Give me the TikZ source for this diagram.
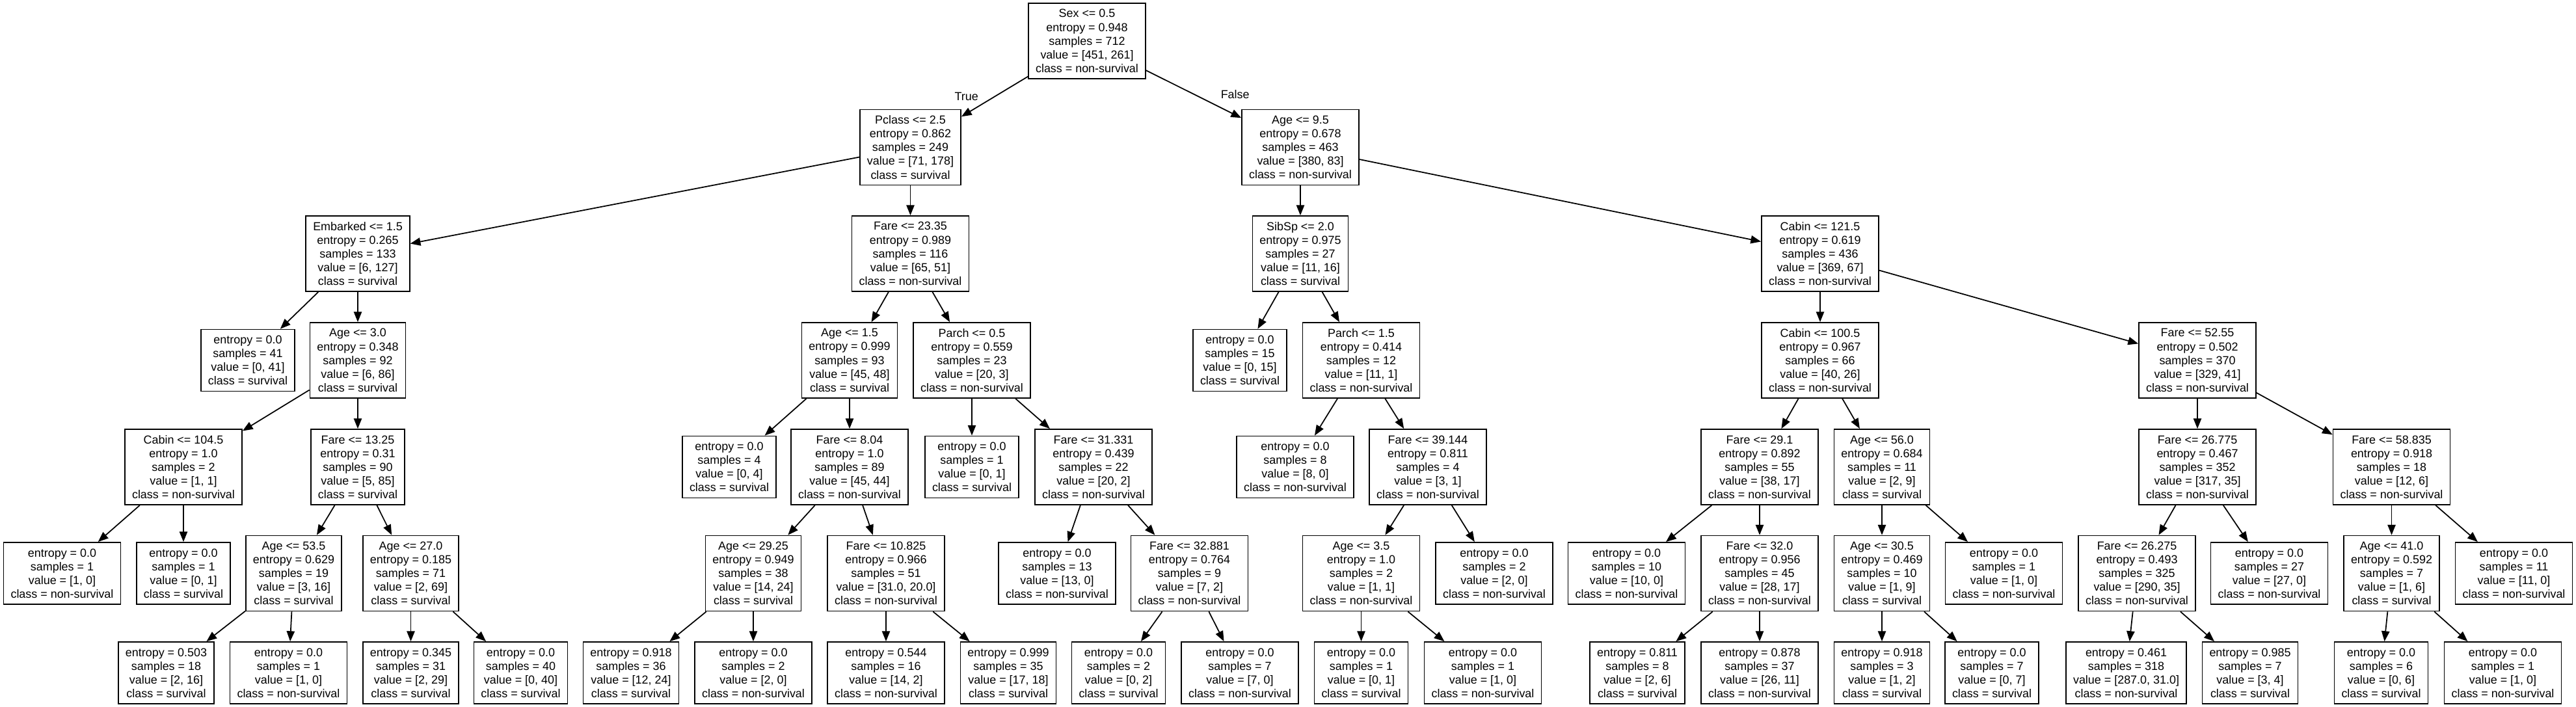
\documentclass[tikz,border=0pt]{standalone}
\usepackage{fontspec}
\setmainfont{Liberation Sans}
\usetikzlibrary{arrows.meta}

\begin{document}
\begin{tikzpicture}[
  split/.style={draw,line width=1pt,align=center,minimum height=2.32cm,inner xsep=0.22cm,inner ysep=0pt,font=\fontsize{10.2}{12}\selectfont},
  leaf/.style={split,minimum height=1.9cm},
  edge/.style={line width=1pt,-{Triangle[length=9pt,width=7pt]}},
  lbl/.style={font=\fontsize{10.2}{12}\selectfont}]
\useasboundingbox (0,0) rectangle (79.2,-21.74);
\node[split] (n0) at (33.42,-1.26) {Sex <= 0.5\\entropy = 0.948\\samples = 712\\value = [451, 261]\\class = non-survival};
\node[split] (n1) at (27.99,-4.53) {Pclass <= 2.5\\entropy = 0.862\\samples = 249\\value = [71, 178]\\class = survival};
\node[split] (n2) at (39.98,-4.53) {Age <= 9.5\\entropy = 0.678\\samples = 463\\value = [380, 83]\\class = non-survival};
\node[split] (n3) at (11.00,-7.80) {Embarked <= 1.5\\entropy = 0.265\\samples = 133\\value = [6, 127]\\class = survival};
\node[split] (n4) at (27.99,-7.80) {Fare <= 23.35\\entropy = 0.989\\samples = 116\\value = [65, 51]\\class = non-survival};
\node[split] (n5) at (39.98,-7.80) {SibSp <= 2.0\\entropy = 0.975\\samples = 27\\value = [11, 16]\\class = survival};
\node[split] (n6) at (55.96,-7.80) {Cabin <= 121.5\\entropy = 0.619\\samples = 436\\value = [369, 67]\\class = non-survival};
\node[leaf] (n7) at (7.62,-11.08) {entropy = 0.0\\samples = 41\\value = [0, 41]\\class = survival};
\node[split] (n8) at (11.00,-11.08) {Age <= 3.0\\entropy = 0.348\\samples = 92\\value = [6, 86]\\class = survival};
\node[split] (n9) at (26.12,-11.08) {Age <= 1.5\\entropy = 0.999\\samples = 93\\value = [45, 48]\\class = survival};
\node[split] (n10) at (29.88,-11.08) {Parch <= 0.5\\entropy = 0.559\\samples = 23\\value = [20, 3]\\class = non-survival};
\node[leaf] (n11) at (38.12,-11.08) {entropy = 0.0\\samples = 15\\value = [0, 15]\\class = survival};
\node[split] (n12) at (41.85,-11.08) {Parch <= 1.5\\entropy = 0.414\\samples = 12\\value = [11, 1]\\class = non-survival};
\node[split] (n13) at (55.96,-11.08) {Cabin <= 100.5\\entropy = 0.967\\samples = 66\\value = [40, 26]\\class = non-survival};
\node[split] (n14) at (67.56,-11.08) {Fare <= 52.55\\entropy = 0.502\\samples = 370\\value = [329, 41]\\class = non-survival};
\node[split] (n15) at (5.64,-14.36) {Cabin <= 104.5\\entropy = 1.0\\samples = 2\\value = [1, 1]\\class = non-survival};
\node[split] (n16) at (11.00,-14.36) {Fare <= 13.25\\entropy = 0.31\\samples = 90\\value = [5, 85]\\class = survival};
\node[leaf] (n17) at (22.42,-14.36) {entropy = 0.0\\samples = 4\\value = [0, 4]\\class = survival};
\node[split] (n18) at (26.12,-14.36) {Fare <= 8.04\\entropy = 1.0\\samples = 89\\value = [45, 44]\\class = non-survival};
\node[leaf] (n19) at (29.88,-14.36) {entropy = 0.0\\samples = 1\\value = [0, 1]\\class = survival};
\node[split] (n20) at (33.62,-14.36) {Fare <= 31.331\\entropy = 0.439\\samples = 22\\value = [20, 2]\\class = non-survival};
\node[leaf] (n21) at (39.82,-14.36) {entropy = 0.0\\samples = 8\\value = [8, 0]\\class = non-survival};
\node[split] (n22) at (43.90,-14.36) {Fare <= 39.144\\entropy = 0.811\\samples = 4\\value = [3, 1]\\class = non-survival};
\node[split] (n23) at (54.10,-14.36) {Fare <= 29.1\\entropy = 0.892\\samples = 55\\value = [38, 17]\\class = non-survival};
\node[split] (n24) at (57.86,-14.36) {Age <= 56.0\\entropy = 0.684\\samples = 11\\value = [2, 9]\\class = survival};
\node[split] (n25) at (67.56,-14.36) {Fare <= 26.775\\entropy = 0.467\\samples = 352\\value = [317, 35]\\class = non-survival};
\node[split] (n26) at (73.53,-14.36) {Fare <= 58.835\\entropy = 0.918\\samples = 18\\value = [12, 6]\\class = non-survival};
\node[leaf] (n27) at (1.91,-17.63) {entropy = 0.0\\samples = 1\\value = [1, 0]\\class = non-survival};
\node[leaf] (n28) at (5.64,-17.63) {entropy = 0.0\\samples = 1\\value = [0, 1]\\class = survival};
\node[split] (n29) at (9.03,-17.63) {Age <= 53.5\\entropy = 0.629\\samples = 19\\value = [3, 16]\\class = survival};
\node[split] (n30) at (12.63,-17.63) {Age <= 27.0\\entropy = 0.185\\samples = 71\\value = [2, 69]\\class = survival};
\node[split] (n31) at (23.16,-17.63) {Age <= 29.25\\entropy = 0.949\\samples = 38\\value = [14, 24]\\class = survival};
\node[split] (n32) at (27.24,-17.63) {Fare <= 10.825\\entropy = 0.966\\samples = 51\\value = [31.0, 20.0]\\class = non-survival};
\node[leaf] (n33) at (32.50,-17.63) {entropy = 0.0\\samples = 13\\value = [13, 0]\\class = non-survival};
\node[split] (n34) at (36.57,-17.63) {Fare <= 32.881\\entropy = 0.764\\samples = 9\\value = [7, 2]\\class = non-survival};
\node[split] (n35) at (41.85,-17.63) {Age <= 3.5\\entropy = 1.0\\samples = 2\\value = [1, 1]\\class = non-survival};
\node[leaf] (n36) at (45.94,-17.63) {entropy = 0.0\\samples = 2\\value = [2, 0]\\class = non-survival};
\node[leaf] (n37) at (50.01,-17.63) {entropy = 0.0\\samples = 10\\value = [10, 0]\\class = non-survival};
\node[split] (n38) at (54.10,-17.63) {Fare <= 32.0\\entropy = 0.956\\samples = 45\\value = [28, 17]\\class = non-survival};
\node[split] (n39) at (57.86,-17.63) {Age <= 30.5\\entropy = 0.469\\samples = 10\\value = [1, 9]\\class = survival};
\node[leaf] (n40) at (61.61,-17.63) {entropy = 0.0\\samples = 1\\value = [1, 0]\\class = non-survival};
\node[split] (n41) at (65.70,-17.63) {Fare <= 26.275\\entropy = 0.493\\samples = 325\\value = [290, 35]\\class = non-survival};
\node[leaf] (n42) at (69.77,-17.63) {entropy = 0.0\\samples = 27\\value = [27, 0]\\class = non-survival};
\node[split] (n43) at (73.53,-17.63) {Age <= 41.0\\entropy = 0.592\\samples = 7\\value = [1, 6]\\class = survival};
\node[leaf] (n44) at (77.29,-17.63) {entropy = 0.0\\samples = 11\\value = [11, 0]\\class = non-survival};
\node[leaf] (n45) at (5.11,-20.69) {entropy = 0.503\\samples = 18\\value = [2, 16]\\class = survival};
\node[leaf] (n46) at (8.87,-20.69) {entropy = 0.0\\samples = 1\\value = [1, 0]\\class = non-survival};
\node[leaf] (n47) at (12.63,-20.69) {entropy = 0.345\\samples = 31\\value = [2, 29]\\class = survival};
\node[leaf] (n48) at (16.01,-20.69) {entropy = 0.0\\samples = 40\\value = [0, 40]\\class = survival};
\node[leaf] (n49) at (19.40,-20.69) {entropy = 0.918\\samples = 36\\value = [12, 24]\\class = survival};
\node[leaf] (n50) at (23.16,-20.69) {entropy = 0.0\\samples = 2\\value = [2, 0]\\class = non-survival};
\node[leaf] (n51) at (27.24,-20.69) {entropy = 0.544\\samples = 16\\value = [14, 2]\\class = non-survival};
\node[leaf] (n52) at (31.00,-20.69) {entropy = 0.999\\samples = 35\\value = [17, 18]\\class = survival};
\node[leaf] (n53) at (34.39,-20.69) {entropy = 0.0\\samples = 2\\value = [0, 2]\\class = survival};
\node[leaf] (n54) at (38.12,-20.69) {entropy = 0.0\\samples = 7\\value = [7, 0]\\class = non-survival};
\node[leaf] (n55) at (41.85,-20.69) {entropy = 0.0\\samples = 1\\value = [0, 1]\\class = survival};
\node[leaf] (n56) at (45.59,-20.69) {entropy = 0.0\\samples = 1\\value = [1, 0]\\class = non-survival};
\node[leaf] (n57) at (50.34,-20.69) {entropy = 0.811\\samples = 8\\value = [2, 6]\\class = survival};
\node[leaf] (n58) at (54.10,-20.69) {entropy = 0.878\\samples = 37\\value = [26, 11]\\class = non-survival};
\node[leaf] (n59) at (57.86,-20.69) {entropy = 0.918\\samples = 3\\value = [1, 2]\\class = survival};
\node[leaf] (n60) at (61.24,-20.69) {entropy = 0.0\\samples = 7\\value = [0, 7]\\class = survival};
\node[leaf] (n61) at (65.37,-20.69) {entropy = 0.461\\samples = 318\\value = [287.0, 31.0]\\class = non-survival};
\node[leaf] (n62) at (69.18,-20.69) {entropy = 0.985\\samples = 7\\value = [3, 4]\\class = survival};
\node[leaf] (n63) at (73.21,-20.69) {entropy = 0.0\\samples = 6\\value = [0, 6]\\class = survival};
\node[leaf] (n64) at (76.95,-20.69) {entropy = 0.0\\samples = 1\\value = [1, 0]\\class = non-survival};
\draw[edge] (n0) -- node[lbl,left=0.37cm] {True} (n1);
\draw[edge] (n0) -- node[lbl,right=0.7cm] {False} (n2);
\draw[edge] (n1) -- (n3);
\draw[edge] (n1) -- (n4);
\draw[edge] (n2) -- (n5);
\draw[edge] (n2) -- (n6);
\draw[edge] (n3) -- (n7);
\draw[edge] (n3) -- (n8);
\draw[edge] (n4) -- (n9);
\draw[edge] (n4) -- (n10);
\draw[edge] (n5) -- (n11);
\draw[edge] (n5) -- (n12);
\draw[edge] (n6) -- (n13);
\draw[edge] (n6) -- (n14);
\draw[edge] (n8) -- (n15);
\draw[edge] (n8) -- (n16);
\draw[edge] (n9) -- (n17);
\draw[edge] (n9) -- (n18);
\draw[edge] (n10) -- (n19);
\draw[edge] (n10) -- (n20);
\draw[edge] (n12) -- (n21);
\draw[edge] (n12) -- (n22);
\draw[edge] (n13) -- (n23);
\draw[edge] (n13) -- (n24);
\draw[edge] (n14) -- (n25);
\draw[edge] (n14) -- (n26);
\draw[edge] (n15) -- (n27);
\draw[edge] (n15) -- (n28);
\draw[edge] (n16) -- (n29);
\draw[edge] (n16) -- (n30);
\draw[edge] (n18) -- (n31);
\draw[edge] (n18) -- (n32);
\draw[edge] (n20) -- (n33);
\draw[edge] (n20) -- (n34);
\draw[edge] (n22) -- (n35);
\draw[edge] (n22) -- (n36);
\draw[edge] (n23) -- (n37);
\draw[edge] (n23) -- (n38);
\draw[edge] (n24) -- (n39);
\draw[edge] (n24) -- (n40);
\draw[edge] (n25) -- (n41);
\draw[edge] (n25) -- (n42);
\draw[edge] (n26) -- (n43);
\draw[edge] (n26) -- (n44);
\draw[edge] (n29) -- (n45);
\draw[edge] (n29) -- (n46);
\draw[edge] (n30) -- (n47);
\draw[edge] (n30) -- (n48);
\draw[edge] (n31) -- (n49);
\draw[edge] (n31) -- (n50);
\draw[edge] (n32) -- (n51);
\draw[edge] (n32) -- (n52);
\draw[edge] (n34) -- (n53);
\draw[edge] (n34) -- (n54);
\draw[edge] (n35) -- (n55);
\draw[edge] (n35) -- (n56);
\draw[edge] (n38) -- (n57);
\draw[edge] (n38) -- (n58);
\draw[edge] (n39) -- (n59);
\draw[edge] (n39) -- (n60);
\draw[edge] (n41) -- (n61);
\draw[edge] (n41) -- (n62);
\draw[edge] (n43) -- (n63);
\draw[edge] (n43) -- (n64);
\end{tikzpicture}
\end{document}
